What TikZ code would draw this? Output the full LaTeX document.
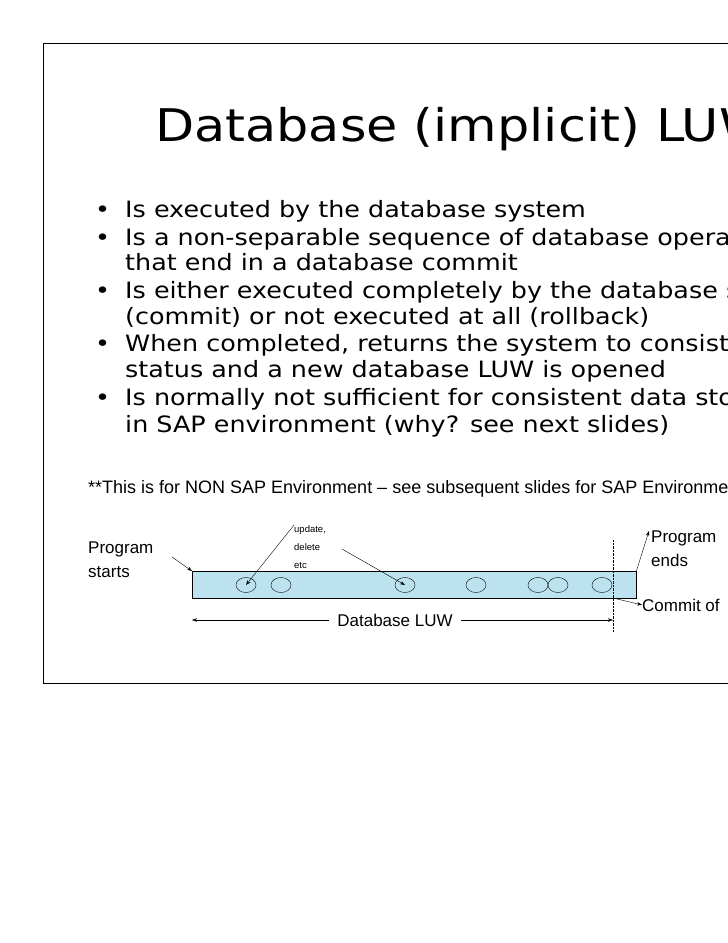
\documentclass[tikz,border=0pt]{standalone}
\usepackage{fontspec}
\setmainfont{DejaVu Sans}[FakeStretch=1.13]
\newfontfamily\arial{Liberation Sans}
\usetikzlibrary{arrows.meta,shapes.geometric}
\tikzset{
  bul/.style={anchor=base west,inner sep=0pt,font=\fontsize{22.5}{27}\selectfont},
  ar/.style={font=\arial\fontsize{17}{24}\selectfont,anchor=base west,inner sep=0pt,align=left},
  sm/.style={font=\arial\fontsize{9.5}{18}\selectfont,anchor=base west,inner sep=0pt,align=left},
  op/.style={draw,ellipse,minimum width=20pt,minimum height=15pt,inner sep=0pt},
  pt/.style={-{Stealth[length=5pt,width=3.5pt]},thin},
}
\begin{document}
\begin{tikzpicture}[x=1pt,y=-1pt]
\useasboundingbox (0,0) rectangle (728,943);
\clip (0,0) rectangle (728,943);
\fill[white] (0,0) rectangle (728,943);
\draw[line width=0.8pt] (43,43) rectangle (760,683);
\node[anchor=base west,inner sep=0pt,font=\fontsize{45}{50}\selectfont] (title) at (155,141) {Database (implicit) LUW};
\foreach \y/\t/\b in {
 217/Is executed by the database system/1,
 245/Is a non-separable sequence of database operations/1,
 270/that end in a database commit/0,
 298/Is either executed completely by the database system/1,
 324/(commit) or not executed at all (rollback)/0,
 351/{When completed, returns the system to consistent}/1,
 377/status and a new database LUW is opened/0,
 405/Is normally not sufficient for consistent data storage/1,
 432/in SAP environment (why? see next slides)/0}{
  \node[bul] at (125,\y) {\t};
  \ifnum\b=1 \node[bul] at (95,\y) {•};\fi
}
\node[anchor=base west,inner sep=0pt,font=\arial\fontsize{18}{18}\selectfont] (foot) at (88,493) {**This is for NON SAP Environment – see subsequent slides for SAP Environment};
% bar
\node[draw,fill=cyan!20!white!90!teal,minimum width=444pt,minimum height=27pt,inner sep=0pt,anchor=north west] (bar) at (192,571) {};
\node[op] (e1) at (246,585) {};
\node[op] (e2) at (281,585) {};
\node[op] (e3) at (405,585) {};
\node[op] (e4) at (476,585) {};
\node[op] (e5) at (538,585) {};
\node[op] (e6) at (558,585) {};
\node[op] (e7) at (602,585) {};
\coordinate (dt) at (613,540);
\coordinate (db) at (613,632);
\draw[densely dotted,thin] (dt) -- (db);
\node[ar] (ps) at (88,577) {Program\\starts};
\draw[pt] (172,557) -- (bar.north west);
\node[sm] (upd) at (294,568) {update,\\delete\\etc};
\draw[pt] (294,525) -- (e1.center);
\draw[pt] (342,549) -- (e3.center);
\node[ar] (pe) at (651,566) {Program\\ends};
\draw[pt] (bar.north east) -- (649,531);
\node[ar] (co) at (642,611) {Commit of};
\coordinate (cs) at (613,598);
\draw[pt] (cs) -- (co.west);
\node[inner sep=8pt,font=\arial\fontsize{17}{20}\selectfont] (luw) at (395,620) {Database LUW};
\coordinate (la) at (192,620);
\coordinate (lb) at (613,620);
\draw[pt] (luw.west) -- (la);
\draw[pt] (luw.east) -- (lb);
\end{tikzpicture}
\end{document}
